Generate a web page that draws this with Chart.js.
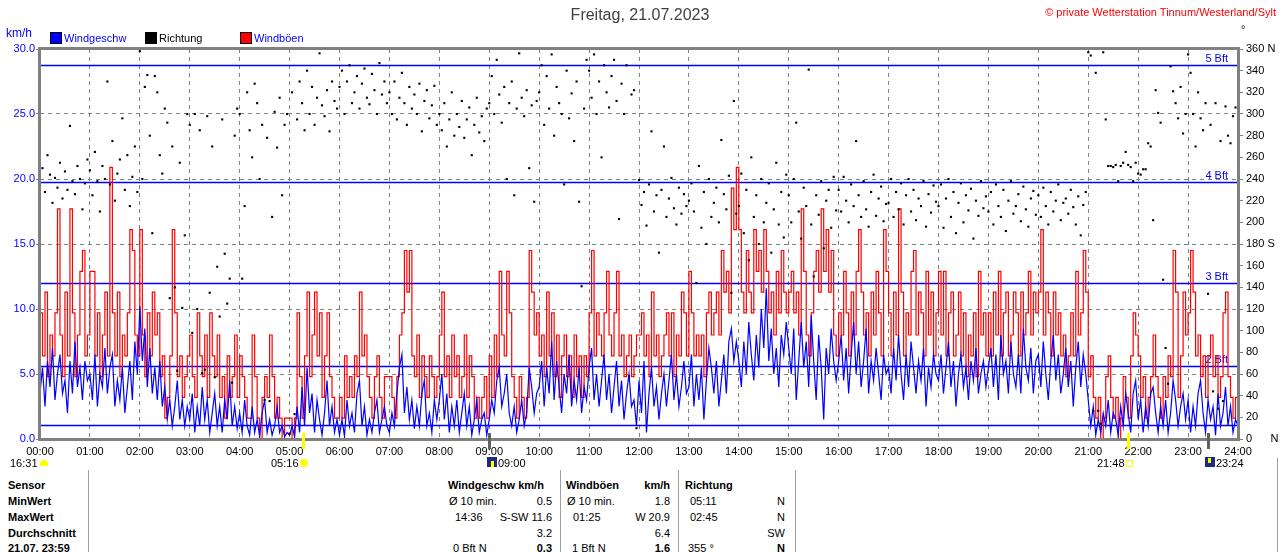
<!DOCTYPE html>
<html>
<head>
<meta charset="utf-8">
<title>Wind 21.07.2023</title>
<script src="https://cdn.jsdelivr.net/npm/chart.js@4.4.1/dist/chart.umd.min.js"></script>
<style>
  body { margin: 0; background: #fff; }
  #wrap { position: relative; width: 1280px; height: 552px; overflow: hidden; background: #fff;
          font-family: "Liberation Sans", Arial, sans-serif; font-size: 11px; }
  #wrap canvas { position: absolute; left: 0; top: 0; }
  .t { position: absolute; white-space: nowrap; line-height: 14px; }
  .b { font-weight: bold; }
  .sq { position: absolute; width: 10px; height: 10px; border: 1px solid #000; }
  .vl { position: absolute; width: 1px; background: #a0a0a0; }
</style>
</head>
<body>
<div id="wrap">
  <canvas id="windChart" width="1280" height="470"></canvas>
  <div class="t" style="left:0;width:1280px;text-align:center;top:6px;font-size:16px;line-height:18px;color:#404040;">Freitag, 21.07.2023</div>
  <div class="t" style="right:4px;top:5px;color:#ff0000;">© private Wetterstation Tinnum/Westerland/Sylt</div>
  <div class="t" style="left:6px;top:26px;color:#0000ff;font-size:12px;">km/h</div>
  <div class="t" style="left:1241px;top:22px;">°</div>
  <div class="sq" style="left:50px;top:32px;background:#0000ff;"></div>
  <div class="t" style="left:64px;top:31px;color:#0000ff;">Windgeschw</div>
  <div class="sq" style="left:145px;top:32px;background:#000;"></div>
  <div class="t" style="left:159px;top:31px;color:#000;">Richtung</div>
  <div class="sq" style="left:240px;top:32px;background:#ff0000;"></div>
  <div class="t" style="left:254px;top:31px;color:#0000ff;">Windböen</div>
  <div id="events"></div>
  <div id="table"></div>
</div>

<script>
// =======================
// Tagesdaten (3-Minuten-Werte)
// =======================

const stepMinutes = 3;

const hourLabels = [
  '00:00', '01:00', '02:00', '03:00', '04:00', '05:00', '06:00', '07:00',
  '08:00', '09:00', '10:00', '11:00', '12:00', '13:00', '14:00', '15:00',
  '16:00', '17:00', '18:00', '19:00', '20:00', '21:00', '22:00', '23:00', '24:00'
];

// Windgeschwindigkeit km/h (eine Zeile = eine Stunde)
const windSpeed = [
  3.5, 5.5, 2.5, 6.0, 4.0, 7.0, 3.0, 5.0, 6.5, 3.5, 4.5, 2.0, 6.0, 3.5, 7.5, 4.0, 5.5, 3.0, 6.0, 4.5,
  5.0, 3.0, 6.5, 2.5, 5.0, 4.0, 7.0, 3.5, 5.5, 6.5, 2.5, 4.5, 3.0, 5.5, 2.0, 4.0, 6.0, 3.0, 7.5, 5.0,
  10.2, 6.0, 8.5, 4.0, 7.0, 3.5, 5.5, 3.0, 6.0, 2.5, 4.0, 1.5, 3.0, 1.0, 2.5, 4.5, 1.5, 3.0, 1.0, 2.5,
  1.5, 3.5, 0.5, 2.5, 1.0, 4.0, 1.5, 3.0, 0.5, 2.0, 3.5, 1.0, 2.5, 0.5, 3.0, 1.5, 4.5, 1.0, 2.5, 0.8,
  2.0, 0.5, 3.0, 1.0, 0.3, 2.5, 0.5, 1.5, 0.2, 2.0, 3.0, 0.5, 1.5, 0.3, 1.0, 2.5, 0.5, 1.0, 0.2, 0.5,
  0.3, 1.0, 0.2, 2.5, 0.5, 4.0, 1.0, 5.5, 2.0, 3.5, 0.5, 3.0, 1.5, 0.3, 2.0, 4.5, 1.0, 2.5, 0.5, 1.5,
  0.3, 1.5, 0.2, 3.0, 1.0, 2.0, 0.5, 3.5, 4.5, 1.0, 2.5, 0.3, 1.5, 0.5, 2.0, 3.0, 0.5, 1.5, 2.5, 1.0,
  0.5, 2.0, 1.0, 3.5, 5.5, 6.5, 2.0, 4.0, 1.5, 3.0, 0.8, 2.5, 1.0, 3.5, 4.5, 1.0, 2.0, 0.5, 3.0, 1.5,
  3.0, 5.0, 1.5, 3.5, 0.5, 2.5, 1.0, 3.0, 0.5, 2.0, 3.5, 1.0, 2.5, 0.3, 1.5, 3.0, 0.5, 1.5, 2.0, 0.3,
  1.5, 3.0, 2.0, 4.5, 5.5, 2.5, 3.5, 5.0, 2.0, 1.0, 2.5, 0.5, 1.5, 3.0, 1.0, 2.0, 5.5, 4.0, 2.0, 3.5,
  4.0, 6.0, 2.5, 5.5, 3.5, 7.5, 3.0, 6.0, 4.0, 2.0, 5.0, 3.5, 6.5, 2.5, 4.5, 3.0, 5.5, 2.0, 4.0, 3.0,
  5.5, 7.0, 3.0, 5.0, 2.5, 4.5, 6.5, 3.0, 5.0, 2.0, 4.0, 6.0, 2.5, 4.5, 1.5, 3.5, 5.0, 2.5, 3.0, 1.0,
  4.5, 2.0, 6.0, 0.5, 3.5, 5.5, 2.5, 4.0, 1.5, 3.5, 5.0, 2.5, 4.5, 6.5, 3.0, 5.0, 2.5, 4.0, 6.0, 3.5,
  4.0, 6.5, 2.5, 5.0, 3.0, 5.5, 1.5, 4.5, 7.0, 5.5, 3.5, 6.0, 2.5, 4.5, 6.5, 3.5, 7.5, 8.5, 6.0, 7.5,
  6.0, 4.0, 7.5, 5.0, 9.0, 6.5, 4.5, 8.0, 5.5, 10.0, 7.0, 11.6, 6.0, 8.5, 5.0, 7.0, 4.0, 8.0, 6.5, 9.0,
  7.0, 5.0, 8.5, 3.0, 6.0, 9.0, 5.5, 7.5, 4.0, 9.5, 6.0, 3.0, 8.0, 5.5, 1.5, 7.0, 5.0, 8.5, 6.0, 4.5,
  6.0, 8.0, 4.5, 7.0, 3.5, 6.5, 9.0, 5.0, 7.5, 4.0, 6.0, 8.5, 3.5, 6.0, 4.5, 7.0, 5.0, 3.0, 6.5, 5.0,
  5.5, 3.5, 7.0, 4.5, 8.0, 5.0, 3.0, 6.5, 4.0, 7.5, 5.5, 3.5, 6.0, 4.5, 7.0, 2.5, 5.5, 4.0, 6.5, 5.0,
  4.5, 6.5, 3.5, 5.5, 7.5, 4.0, 6.0, 2.5, 5.0, 6.5, 4.0, 5.5, 3.0, 6.0, 4.5, 7.0, 3.5, 5.0, 6.0, 4.0,
  5.5, 7.0, 4.0, 6.5, 3.0, 8.0, 5.0, 6.0, 3.5, 7.5, 5.0, 4.0, 6.5, 3.5, 8.5, 5.5, 4.5, 7.0, 3.5, 6.0,
  6.5, 4.0, 7.5, 5.0, 3.0, 6.0, 8.0, 4.5, 6.5, 3.5, 5.0, 7.0, 4.0, 6.0, 2.5, 5.5, 7.5, 4.0, 6.5, 5.0,
  3.0, 1.0, 2.5, 0.3, 1.5, 0.5, 2.0, 1.0, 3.0, 0.5, 2.0, 1.5, 0.3, 2.5, 1.0, 3.5, 2.0, 0.5, 3.5, 4.5,
  1.5, 3.0, 0.5, 2.5, 1.0, 3.5, 4.0, 2.0, 0.5, 2.5, 1.0, 3.0, 0.5, 2.0, 4.5, 3.0, 1.0, 2.5, 3.5, 1.5,
  3.0, 0.5, 2.5, 1.0, 3.5, 4.5, 2.0, 0.5, 3.0, 1.5, 2.5, 0.3, 3.5, 1.0, 2.0, 4.0, 1.0, 2.5, 0.5, 1.5,
  1.0
];

// Windböen km/h
const windGusts = [
  9.7, 6.4, 11.3, 4.8, 8.0, 6.4, 9.7, 17.7, 8.0, 4.8, 11.3, 6.4, 17.7, 9.7, 4.8, 8.0, 12.9, 14.5, 6.4, 8.0,
  12.9, 12.9, 6.4, 9.7, 4.8, 8.0, 11.3, 6.4, 20.9, 9.7, 6.4, 11.3, 4.8, 8.0, 6.4, 9.7, 16.1, 14.5, 8.0, 6.4,
  16.1, 8.0, 4.8, 9.7, 6.4, 11.3, 8.0, 9.7, 4.8, 6.4, 1.6, 3.2, 6.4, 16.1, 9.7, 4.8, 6.4, 3.2, 4.8, 6.4,
  8.0, 4.8, 3.2, 9.7, 6.4, 4.8, 8.0, 3.2, 9.7, 6.4, 4.8, 8.0, 3.2, 4.8, 1.6, 6.4, 3.2, 4.8, 8.0, 3.2,
  6.4, 4.8, 3.2, 1.6, 1.6, 8.0, 4.8, 1.6, 0.0, 3.2, 4.8, 3.2, 8.0, 4.8, 1.6, 3.2, 1.6, 0.0, 1.6, 1.6,
  1.6, 0.0, 1.6, 9.7, 4.8, 1.6, 6.4, 11.3, 4.8, 8.0, 11.3, 6.4, 9.7, 3.2, 6.4, 9.7, 4.8, 3.2, 1.6, 1.6,
  3.2, 1.6, 6.4, 3.2, 4.8, 3.2, 6.4, 4.8, 11.3, 6.4, 8.0, 4.8, 3.2, 1.6, 4.8, 6.4, 3.2, 1.6, 4.8, 4.8,
  4.8, 3.2, 1.6, 4.8, 8.0, 9.7, 14.5, 11.3, 14.5, 6.4, 4.8, 8.0, 3.2, 6.4, 4.8, 3.2, 6.4, 4.8, 3.2, 4.8,
  8.0, 11.3, 4.8, 6.4, 3.2, 8.0, 4.8, 6.4, 3.2, 4.8, 8.0, 3.2, 6.4, 4.8, 1.6, 3.2, 1.6, 3.2, 4.8, 1.6,
  6.4, 3.2, 8.0, 4.8, 12.9, 8.0, 6.4, 12.9, 9.7, 4.8, 3.2, 1.6, 4.8, 3.2, 1.6, 3.2, 14.5, 11.3, 8.0, 9.7,
  6.4, 8.0, 4.8, 11.3, 6.4, 9.7, 4.8, 8.0, 3.2, 6.4, 8.0, 4.8, 6.4, 3.2, 8.0, 4.8, 6.4, 3.2, 6.4, 4.8,
  9.7, 14.5, 6.4, 9.7, 8.0, 6.4, 9.7, 12.9, 8.0, 6.4, 9.7, 12.9, 6.4, 8.0, 4.8, 6.4, 8.0, 4.8, 6.4, 8.0,
  8.0, 9.7, 6.4, 8.0, 4.8, 11.3, 6.4, 8.0, 4.8, 6.4, 8.0, 9.7, 6.4, 9.7, 4.8, 8.0, 6.4, 11.3, 9.7, 6.4,
  12.9, 9.7, 6.4, 8.0, 6.4, 8.0, 4.8, 9.7, 11.3, 8.0, 9.7, 11.3, 8.0, 14.5, 11.3, 12.9, 9.7, 19.3, 16.1, 20.9,
  16.1, 11.3, 9.7, 14.5, 11.3, 9.7, 16.1, 12.9, 14.5, 11.3, 16.1, 12.9, 9.7, 11.3, 8.0, 12.9, 9.7, 14.5, 11.3, 9.7,
  11.3, 12.9, 9.7, 11.3, 8.0, 17.7, 12.9, 8.0, 6.4, 9.7, 12.9, 14.5, 11.3, 17.7, 12.9, 16.1, 11.3, 14.5, 8.0, 6.4,
  9.7, 8.0, 12.9, 9.7, 6.4, 11.3, 8.0, 12.9, 16.1, 11.3, 8.0, 9.7, 6.4, 11.3, 8.0, 12.9, 9.7, 6.4, 16.1, 12.9,
  9.7, 6.4, 11.3, 8.0, 17.7, 11.3, 6.4, 9.7, 8.0, 12.9, 14.5, 8.0, 11.3, 9.7, 6.4, 12.9, 8.0, 11.3, 6.4, 9.7,
  12.9, 8.0, 12.9, 6.4, 9.7, 11.3, 6.4, 8.0, 11.3, 6.4, 9.7, 4.8, 8.0, 6.4, 9.7, 4.8, 12.9, 8.0, 9.7, 6.4,
  9.7, 6.4, 11.3, 8.0, 12.9, 6.4, 9.7, 11.3, 6.4, 8.0, 11.3, 9.7, 6.4, 11.3, 8.0, 9.7, 12.9, 8.0, 11.3, 9.7,
  11.3, 16.1, 8.0, 11.3, 9.7, 6.4, 11.3, 8.0, 9.7, 6.4, 8.0, 4.8, 6.4, 9.7, 6.4, 12.9, 8.0, 9.7, 14.5, 11.3,
  4.8, 6.4, 3.2, 1.6, 3.2, 0.0, 1.6, 4.8, 6.4, 3.2, 1.6, 3.2, 0.0, 1.6, 4.8, 3.2, 1.6, 6.4, 9.7, 8.0,
  6.4, 3.2, 4.8, 1.6, 3.2, 4.8, 8.0, 4.8, 3.2, 1.6, 4.8, 3.2, 6.4, 4.8, 14.5, 11.3, 3.2, 6.4, 11.3, 8.0,
  9.7, 14.5, 11.3, 6.4, 8.0, 4.8, 6.4, 3.2, 6.4, 8.0, 4.8, 6.4, 3.2, 4.8, 9.7, 11.3, 4.8, 3.2, 1.6, 3.2,
  1.6
];

// Windrichtung Grad
const windDirection = [
  235, 250, 228, 262, 244, 218, 241, 232, 255, 222, 247, 230, 289, 238, 226, 252, 240, 212, 236, 258,
  248, 225, 265, 238, 210, 252, 240, 330, 235, 275, 220, 245, 258, 296, 230, 262, 215, 242, 270, 228,
  358, 240, 325, 336, 280, 190, 335, 320, 262, 245, 305, 292, 130, 270, 140, 63, 255, 121, 188, 300,
  290, 98, 300, 120, 285, 61, 64, 298, 135, 270, 57, 159, 113, 295, 171, 125, 148, 52, 280, 305,
  300, 148, 215, 320, 285, 260, 328, 310, 240, 290, 36, 278, 35, 205, 302, 269, 315, 225, 290, 300,
  5, 320, 23, 295, 330, 310, 285, 340, 300, 325, 290, 315, 356, 308, 298, 322, 284, 330, 312, 305,
  325, 340, 300, 330, 345, 310, 320, 335, 305, 328, 342, 315, 309, 337, 322, 300, 347, 318, 330, 310,
  320, 300, 330, 295, 315, 338, 310, 290, 325, 305, 318, 300, 328, 284, 312, 322, 296, 308, 326, 290,
  300, 285, 310, 270, 295, 320, 280, 300, 288, 312, 278, 295, 306, 262, 290, 315, 283, 298, 275, 305,
  310, 335, 300, 350, 318, 292, 325, 240, 310, 330, 225, 305, 356, 315, 298, 322, 250, 308, 219, 312,
  320, 345, 290, 335, 305, 355, 280, 325, 310, 300, 235, 340, 296, 319, 275, 330, 219, 141, 305, 350,
  340, 315, 355, 300, 330, 260, 345, 320, 306, 335, 350, 312, 203, 328, 300, 345, 58, 318, 322, 10,
  239, 216, 228, 197, 235, 284, 210, 225, 172, 230, 270, 205, 222, 241, 213, 198, 232, 208, 226, 215,
  220, 236, 210, 144, 252, 195, 228, 180, 240, 205, 218, 232, 200, 276, 226, 212, 243, 135, 312, 208,
  215, 245, 190, 230, 165, 260, 205, 225, 180, 240, 200, 218, 236, 172, 212, 255, 198, 228, 186, 244,
  225, 200, 240, 292, 210, 185, 232, 215, 341, 198, 150, 225, 207, 238, 176, 220, 230, 195, 242, 211,
  230, 210, 242, 220, 200, 235, 215, 275, 225, 205, 238, 212, 196, 228, 244, 206, 222, 233, 201, 217,
  218, 240, 205, 228, 212, 236, 198, 225, 240, 210, 230, 202, 222, 215, 238, 196, 226, 209, 234, 219,
  215, 235, 195, 222, 240, 205, 228, 190, 218, 236, 200, 225, 211, 231, 185, 220, 206, 238, 213, 224,
  210, 228, 198, 235, 215, 205, 230, 192, 220, 238, 208, 215, 226, 201, 233, 212, 196, 222, 229, 207,
  225, 205, 232, 215, 198, 228, 210, 220, 235, 202, 218, 222, 208, 230, 214, 198, 224, 188, 216, 228,
  357, 354, 26, 338, 26, 14, 357, 295, 252, 252, 251, 253, 238, 252, 255, 265, 253, 251, 238, 255,
  245, 244, 249, 249, 273, 270, 202, 322, 301, 292, 147, 84, 51, 344, 321, 310, 296, 325, 282, 300,
  355, 338, 300, 270, 320, 296, 285, 310, 134, 290, 44, 310, 28, 275, 35, 307, 280, 273, 298, 306,
  356
];

// Beaufort-Grenzen km/h
const bftLevels = [1.1, 5.6, 12.0, 19.8, 28.8];
const bftLabels = ['', '2 Bft', '3 Bft', '4 Bft', '5 Bft'];

// Sonne / Mond Ereignisse (Minuten)
const eventMinutes = [316, 540, 1308, 1404];
const eventColors = ['#ffff00', '#606060', '#ffff00', '#606060'];

// Statistik-Tabelle
const tableRows = ['Sensor', 'MinWert', 'MaxWert', 'Durchschnitt', '21.07. 23:59'];


function toPoints(values) {
  return values.map((v, i) => ({ x: i * stepMinutes, y: v }));
}


// =======================
// Zusatz-Zeichnung: Bft-Linien, Rahmen, Marken
// =======================

const overlayPlugin = {
  id: 'overlay',

  beforeDatasetsDraw(chart) {
    const { ctx, chartArea: a, scales } = chart;
    ctx.save();
    ctx.strokeStyle = '#0000ff';
    ctx.fillStyle = '#0000ff';
    ctx.lineWidth = 1.5;
    ctx.font = '11px "Liberation Sans", Arial, sans-serif';
    ctx.textAlign = 'right';
    ctx.textBaseline = 'bottom';

    bftLevels.forEach((v, i) => {
      const py = Math.round(scales.y.getPixelForValue(v)) + 0.5;
      ctx.beginPath();
      ctx.moveTo(a.left, py);
      ctx.lineTo(a.right, py);
      ctx.stroke();
      if (bftLabels[i]) ctx.fillText(bftLabels[i], a.right - 10, py - 1);
    });
    ctx.restore();
  },

  afterDatasetsDraw(chart) {
    const { ctx, chartArea: a, scales } = chart;
    ctx.save();
    ctx.strokeStyle = '#808080';
    ctx.lineWidth = 3;
    ctx.strokeRect(a.left - 0.5, a.top - 0.5, a.right - a.left + 1, a.bottom - a.top + 1);

    eventMinutes.forEach((m, i) => {
      const px = Math.round(scales.x.getPixelForValue(m));
      ctx.fillStyle = eventColors[i];
      ctx.fillRect(px - 1, a.bottom - 6, 3, 16);
    });
    ctx.restore();
  }
};


// =======================
// Diagramm
// =======================

Chart.defaults.font.family = '"Liberation Sans", Arial, sans-serif';
Chart.defaults.font.size = 11;

new Chart(document.getElementById('windChart'), {
  type: 'line',
  data: {
    datasets: [
      {
        type: 'scatter',
        label: 'Richtung',
        data: toPoints(windDirection),
        yAxisID: 'yDir',
        showLine: false,
        pointStyle: 'rect',
        pointRadius: 1.5,
        pointBorderWidth: 0,
        backgroundColor: '#000000',
        order: 0
      },
      {
        label: 'Windgeschw',
        data: toPoints(windSpeed),
        yAxisID: 'y',
        borderColor: '#0000ff',
        borderWidth: 1.2,
        pointRadius: 0,
        tension: 0,
        order: 1
      },
      {
        label: 'Windböen',
        data: toPoints(windGusts),
        yAxisID: 'y',
        borderColor: '#ff0000',
        borderWidth: 1.2,
        pointRadius: 0,
        stepped: true,
        order: 2
      }
    ]
  },
  options: {
    responsive: false,
    animation: false,
    devicePixelRatio: 1,
    layout: { padding: { top: 49, left: 0, right: 0, bottom: 0 } },
    plugins: {
      legend: { display: false },
      tooltip: { enabled: false }
    },
    scales: {
      x: {
        type: 'linear',
        min: 0,
        max: 1440,
        afterFit(scale) { scale.height = 31; },
        ticks: {
          stepSize: 60,
          autoSkip: false,
          maxRotation: 0,
          color: '#000000',
          padding: 6,
          callback: v => hourLabels[v / 60]
        },
        grid: { color: '#808080', drawTicks: false },
        border: { display: false, dash: [4, 4] }
      },
      y: {
        position: 'left',
        min: 0,
        max: 30,
        afterFit(scale) { scale.width = 40; },
        ticks: {
          stepSize: 5,
          color: '#0000ff',
          padding: 1,
          callback: v => v.toFixed(1)
        },
        grid: { color: '#808080', tickColor: '#808080', tickLength: 4 },
        border: { display: false, dash: [4, 4] }
      },
      yDir: {
        position: 'right',
        min: 0,
        max: 360,
        afterFit(scale) { scale.width = 42; },
        ticks: {
          stepSize: 20,
          color: '#000000',
          padding: 3,
          callback: v => (v === 360 ? '360 N' : v === 180 ? '180 S' : v === 0 ? '0      N' : v)
        },
        grid: { drawOnChartArea: false, tickColor: '#808080', tickLength: 5 },
        border: { display: false }
      }
    }
  },
  plugins: [overlayPlugin]
});


// =======================
// Sonne / Mond Beschriftung
// =======================

const events = document.getElementById('events');
events.innerHTML = `
  <div class="t" style="left:10px;top:456px;">16:31</div>
  <div style="position:absolute;left:40px;top:460px;width:8px;height:6px;background:#ffff00;border-radius:4px 4px 0 0;"></div>
  <div class="t" style="left:271px;top:456px;">05:16</div>
  <div style="position:absolute;left:300px;top:459px;width:8px;height:8px;background:#ffff00;border-radius:4px;"></div>
  <div style="position:absolute;left:487px;top:457px;width:10px;height:10px;background:#1c2a80;"></div>
  <div style="position:absolute;left:491px;top:461px;width:3px;height:6px;background:#ffff00;"></div>
  <div class="t" style="left:498px;top:456px;">09:00</div>
  <div class="t" style="left:1097px;top:456px;">21:48</div>
  <div style="position:absolute;left:1126px;top:460px;width:5px;height:5px;border:1px solid #ffff00;"></div>
  <div style="position:absolute;left:1205px;top:457px;width:10px;height:10px;background:#1c2a80;"></div>
  <div style="position:absolute;left:1208px;top:458px;width:3px;height:5px;background:#ffff00;"></div>
  <div class="t" style="left:1216px;top:456px;">23:24</div>
`;


// =======================
// Statistik-Tabelle
// =======================

const table = document.getElementById('table');
const rowTop = [478, 494, 510, 526, 541];

const cells = [
  // [zeile, text, x, ausrichtung, fett]
  [0, 'Windgeschw km/h', 448, 'l', true],
  [0, 'Windböen', 566, 'l', true],
  [0, 'km/h', 670, 'r', true],
  [0, 'Richtung', 685, 'l', true],
  [1, 'Ø 10 min.', 449, 'l', false],
  [1, '0.5', 552, 'r', false],
  [1, 'Ø 10 min.', 567, 'l', false],
  [1, '1.8', 670, 'r', false],
  [1, '05:11', 690, 'l', false],
  [1, 'N', 785, 'r', false],
  [2, '14:36', 455, 'l', false],
  [2, 'S-SW 11.6', 552, 'r', false],
  [2, '01:25', 573, 'l', false],
  [2, 'W 20.9', 670, 'r', false],
  [2, '02:45', 690, 'l', false],
  [2, 'N', 785, 'r', false],
  [3, '3.2', 552, 'r', false],
  [3, '6.4', 670, 'r', false],
  [3, 'SW', 785, 'r', false],
  [4, '0 Bft N', 453, 'l', false],
  [4, '0.3', 552, 'r', true],
  [4, '1 Bft N', 572, 'l', false],
  [4, '1.6', 670, 'r', true],
  [4, '355 °', 688, 'l', false],
  [4, 'N', 785, 'r', true]
];

let html = '';

tableRows.forEach((name, i) => {
  html += `<div class="t b" style="left:8px;top:${rowTop[i]}px;">${name}</div>`;
});

cells.forEach(([row, text, x, align, bold]) => {
  const pos = align === 'r' ? `right:${1280 - x}px;` : `left:${x}px;`;
  html += `<div class="t${bold ? ' b' : ''}" style="${pos}top:${rowTop[row]}px;">${text}</div>`;
});

[88, 560, 678, 795].forEach(x => {
  html += `<div class="vl" style="left:${x}px;top:470px;height:82px;"></div>`;
});
html += `<div class="vl" style="left:1277px;top:458px;height:94px;"></div>`;

table.innerHTML = html;
</script>
</body>
</html>
